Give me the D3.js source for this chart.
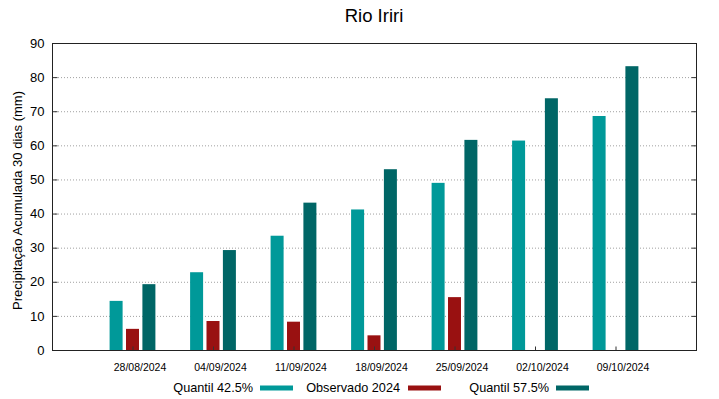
<!DOCTYPE html>
<html>
<head>
<meta charset="utf-8">
<script src="https://cdn.jsdelivr.net/npm/d3@7"></script>
<style>
  html, body { margin: 0; padding: 0; background: #fff; }
  svg { display: block; font-family: "Liberation Sans", Arial, sans-serif; }
</style>
</head>
<body>
<svg id="chart" width="719" height="399"></svg>
<script>
const title = "Rio Iriri";
const yLabel = "Precipitação Acumulada 30 dias (mm)";
const categories = ["28/08/2024", "04/09/2024", "11/09/2024", "18/09/2024", "25/09/2024", "02/10/2024", "09/10/2024"];
const quantil425 = [14.4, 22.8, 33.5, 41.2, 49.0, 61.4, 68.6];
const observado2024 = [6.2, 8.5, 8.3, 4.3, 15.5, null, null];
const quantil575 = [19.3, 29.3, 43.2, 53.0, 61.6, 73.8, 83.2];
const yTicks = [0, 10, 20, 30, 40, 50, 60, 70, 80, 90];
const seriesNames = ["Quantil 42.5%", "Observado 2024", "Quantil 57.5%"];
const seriesColors = ["#009999", "#991111", "#006666"];

const svg = d3.select("#chart");
const M = { left: 52, right: 696, top: 43, bottom: 350 };

const x = d3.scaleLinear().domain([-1, categories.length]).range([M.left, M.right]);
const y = d3.scaleLinear().domain([0, 90]).range([M.bottom, M.top]);
const unit = x(1) - x(0);
const barW = 13;
const offsets = [-16.4, 0, 16.4];

// grid
svg.append("g").selectAll("line").data(yTicks.filter(t => t > 0 && t < 90)).join("line")
  .attr("x1", M.left).attr("x2", M.right)
  .attr("y1", d => y(d) + 0.5).attr("y2", d => y(d) + 0.5)
  .attr("stroke", "#a0a0a0").attr("stroke-width", 1).attr("stroke-dasharray", "1,2");

// bars
const series = [quantil425, observado2024, quantil575];
series.forEach((vals, si) => {
  svg.append("g").selectAll("rect")
    .data(vals.map((v, i) => ({ v, i })).filter(d => d.v != null))
    .join("rect")
    .attr("x", d => x(d.i) + offsets[si] - barW / 2)
    .attr("width", barW)
    .attr("y", d => y(d.v))
    .attr("height", d => y(0) - y(d.v))
    .attr("fill", seriesColors[si]);
});

// axes ticks
const yAxisL = d3.axisLeft(y).tickValues(yTicks).tickSize(-5).tickPadding(8).tickFormat(d3.format("d"));
const gL = svg.append("g").attr("transform", `translate(${M.left + 0.5},0)`).call(yAxisL);
gL.select(".domain").remove();
gL.selectAll("line").attr("stroke", "#333");
gL.selectAll("text").attr("font-size", 13).attr("fill", "#000").attr("font-family", "Liberation Sans, Arial, sans-serif");

const yAxisR = d3.axisRight(y).tickValues(yTicks).tickSize(-5).tickFormat("");
const gR = svg.append("g").attr("transform", `translate(${M.right + 0.5},0)`).call(yAxisR);
gR.select(".domain").remove();
gR.selectAll("line").attr("stroke", "#333");

const xAxis = d3.axisBottom(x).tickValues(d3.range(categories.length)).tickSize(-4).tickPadding(0).tickFormat(i => categories[i]);
const gX = svg.append("g").attr("transform", `translate(0,${M.bottom + 0.5})`).call(xAxis);
gX.select(".domain").remove();
gX.selectAll("line").attr("stroke", "#333");
gX.selectAll("text").attr("font-size", 10.5).attr("fill", "#000")
  .attr("font-family", "Liberation Sans, Arial, sans-serif")
  .attr("dx", 7).attr("dy", 0).attr("y", 20.5);

// frame
svg.append("rect")
  .attr("x", M.left + 0.5).attr("y", M.top + 0.5)
  .attr("width", M.right - M.left).attr("height", M.bottom - M.top)
  .attr("fill", "none").attr("stroke", "#222").attr("stroke-width", 1);

// title
svg.append("text").attr("x", (M.left + M.right) / 2).attr("y", 21.5)
  .attr("text-anchor", "middle").attr("font-size", 18.5).attr("fill", "#000").text(title);

// y label
svg.append("text").attr("transform", `translate(22,${(M.top + M.bottom) / 2 + 4}) rotate(-90)`)
  .attr("text-anchor", "middle").attr("font-size", 13).attr("fill", "#000").text(yLabel);

// legend
const legendTextRight = [253, 400, 549];
const legendSwatchX = [260, 408, 556];
seriesNames.forEach((name, i) => {
  svg.append("text").attr("x", legendTextRight[i]).attr("y", 391.5)
    .attr("text-anchor", "end").attr("font-size", 12.7).attr("fill", "#000").text(name);
  svg.append("rect").attr("x", legendSwatchX[i]).attr("y", 385.5)
    .attr("width", 33).attr("height", 5).attr("fill", seriesColors[i]);
});
</script>
</body>
</html>
